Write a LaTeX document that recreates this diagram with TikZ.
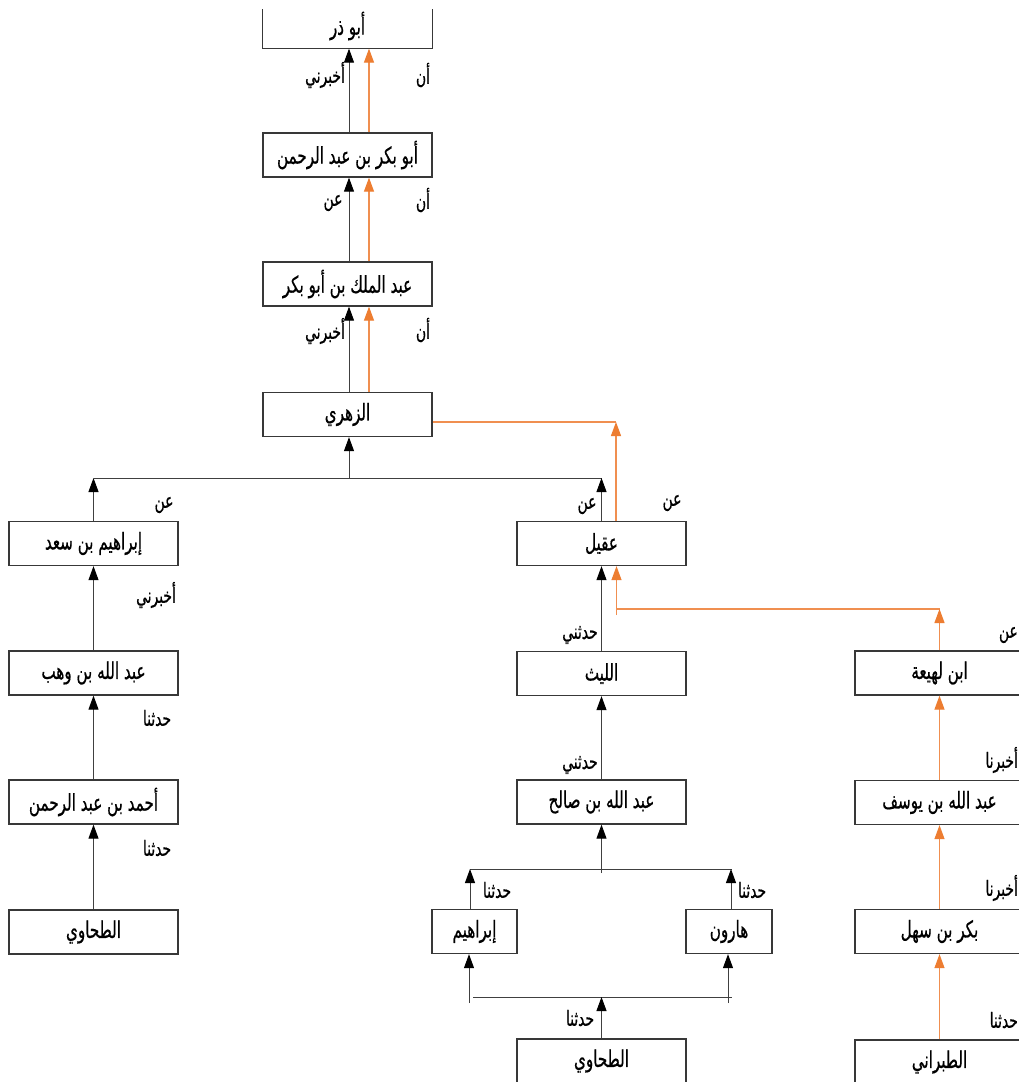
\documentclass[tikz,border=0pt]{standalone}
\usepackage{fontspec}
\newfontfamily\arabicfont[Script=Arabic,FakeStretch=0.66,FakeBold=0.6]{DejaVu Sans}
\TeXXeTstate=1
\usetikzlibrary{arrows.meta}
\definecolor{org}{HTML}{ED7D31}
\definecolor{orgl}{HTML}{F08F50}
\newcommand\artxt[1]{\beginR #1\endR}
\begin{document}
\begin{tikzpicture}[x=1pt,y=-1pt,
  box/.style={draw=black!78,line width=1.3pt,minimum width=169pt,minimum height=44pt,inner sep=0pt,font=\fontsize{23}{26}\arabicfont},
  lbl/.style={inner sep=0pt,font=\fontsize{21}{24}\arabicfont},
  blk/.style={draw=black!75,line width=1pt},
  barr/.style={blk,-{Triangle[length=14pt,width=10pt,color=black]}},
  oline/.style={draw=orgl,line width=1.2pt},
  oarr/.style={oline,-{Triangle[length=14pt,width=10pt,color=org]}}]
\useasboundingbox (0,0) rectangle (1019,1082);
\clip (0,0) rectangle (1019,1082);
\fill[white] (0,0) rectangle (1019,1082);
% boxes
\node[box,draw=none] (b1) at (347.5,26) {\artxt{أبو ذر}};
\draw[black!78,line width=1.3pt] ([yshift=-6pt]b1.north west) -- (b1.south west) -- (b1.south east) -- ([yshift=-6pt]b1.north east);
\node[box] (b2) at (347.5,155) {\artxt{أبو بكر بن عبد الرحمن}};
\node[box] (b3) at (347.5,284) {\artxt{عبد الملك بن أبو بكر}};
\node[box] (b4) at (347.5,414.5) {\artxt{الزهري}};
\node[box] (isaad) at (93.5,543.5) {\artxt{إبراهيم بن سعد}};
\node[box] (wahb) at (93.5,673) {\artxt{عبد الله بن وهب}};
\node[box] (ahmad) at (93.5,802) {\artxt{أحمد بن عبد الرحمن}};
\node[box] (tah1) at (93.5,932) {\artxt{الطحاوي}};
\node[box] (aqil) at (601.5,543.5) {\artxt{عقيل}};
\node[box] (layth) at (601.5,673.5) {\artxt{الليث}};
\node[box] (salih) at (601.5,802) {\artxt{عبد الله بن صالح}};
\node[box,minimum width=85pt] (ibr) at (474.5,931.5) {\artxt{إبراهيم}};
\node[box,minimum width=86pt] (harun) at (729,931.5) {\artxt{هارون}};
\node[box] (tah2) at (601.5,1061) {\artxt{الطحاوي}};
\node[box] (lahia) at (939.5,673) {\artxt{ابن لهيعة}};
\node[box] (yusuf) at (939.5,802.5) {\artxt{عبد الله بن يوسف}};
\node[box] (bakr) at (939.5,931.5) {\artxt{بكر بن سهل}};
\node[box] (tabar) at (939.5,1062) {\artxt{الطبراني}};
% top chain
\draw[barr] ([xshift=1.5pt]b2.north) -- ([xshift=1.5pt]b1.south);
\draw[oarr] ([xshift=21.5pt]b2.north) -- ([xshift=21.5pt]b1.south);
\draw[barr] ([xshift=1.5pt]b3.north) -- ([xshift=1.5pt]b2.south);
\draw[oarr] ([xshift=21.5pt]b3.north) -- ([xshift=21.5pt]b2.south);
\draw[barr] ([xshift=1.5pt]b4.north) -- ([xshift=1.5pt]b3.south);
\draw[oarr] ([xshift=21.5pt]b4.north) -- ([xshift=21.5pt]b3.south);
% branch below Zuhri
\coordinate (jz) at (349,478);
\coordinate (jl) at (93.5,478);
\coordinate (jm) at (601.5,478);
\draw[barr] (jz) -- (jz |- b4.south);
\draw[blk] (jl) -- (jm);
\draw[barr] (isaad.north) -- (jl);
\draw[barr] (aqil.north) -- (jm);
% orange from aqil to zuhri
\coordinate (oz) at (616,422);
\draw[oline] ([yshift=-7.5pt]b4.east) -- (oz);
\draw[oarr] ([xshift=14.5pt]aqil.north) -- (oz);
% left column
\draw[barr] (wahb.north) -- (isaad.south);
\draw[barr] (ahmad.north) -- (wahb.south);
\draw[barr] (tah1.north) -- (ahmad.south);
% middle column
\draw[barr] (layth.north) -- (aqil.south);
\draw[barr] (salih.north) -- (layth.south);
\coordinate (os) at (616.5,615);
\coordinate (ol) at (616.5,609);
\coordinate (or) at (939.5,609);
\draw[oarr] (os) -- (os |- aqil.south);
\draw[oline] (ol) -- (or);
% right column
\draw[oarr] (lahia.north) -- (or);
\draw[oarr] (yusuf.north) -- (lahia.south);
\draw[oarr] (bakr.north) -- (yusuf.south);
\draw[oarr] (tabar.north) -- (bakr.south);
% split below salih
\coordinate (js) at (601.5,873);
\coordinate (jsl) at (470,869);
\coordinate (jsr) at (731,869);
\coordinate (jse) at (732,869);
\draw[barr] (js) -- (js |- salih.south);
\draw[blk] (jsl) -- (jse);
\draw[barr] (ibr.north -| jsl) -- (jsl);
\draw[barr] (harun.north -| jsr) -- (jsr);
% join above tahawi 2
\coordinate (hbl) at (473,997);
\coordinate (hbr) at (732,997);
\coordinate (jbl) at (469,1003);
\coordinate (jbr) at (728,1003);
\coordinate (jb) at (601.5,997);
\draw[blk] (hbl) -- (hbr);
\draw[barr] (jbl) -- (jbl |- ibr.south);
\draw[barr] (jbr) -- (jbr |- harun.south);
\draw[barr] (tah2.north) -- (jb);
% labels
\node[lbl] (l1) at (325,75) {\artxt{أخبرني}};
\node[lbl] (l2) at (423,75) {\artxt{أن}};
\node[lbl] (l3) at (333,203) {\artxt{عن}};
\node[lbl] (l4) at (423,200) {\artxt{أن}};
\node[lbl] (l5) at (325,331) {\artxt{أخبرني}};
\node[lbl] (l6) at (423,330) {\artxt{أن}};
\node[lbl] (l7) at (164,505) {\artxt{عن}};
\node[lbl] (l8) at (587,506) {\artxt{عن}};
\node[lbl] (l9) at (672,503) {\artxt{عن}};
\node[lbl] (l10) at (156,595) {\artxt{أخبرني}};
\node[lbl] (l11) at (580,635) {\artxt{حدثني}};
\node[lbl,anchor=east] (l12) at (1018,635) {\artxt{عن}};
\node[lbl] (l13) at (157,718) {\artxt{حدثنا}};
\node[lbl] (l14) at (580,765) {\artxt{حدثني}};
\node[lbl,anchor=east] (l15) at (1018,760) {\artxt{أخبرنا}};
\node[lbl] (l16) at (157,848) {\artxt{حدثنا}};
\node[lbl] (l17) at (497,890) {\artxt{حدثنا}};
\node[lbl] (l18) at (752,890) {\artxt{حدثنا}};
\node[lbl,anchor=east] (l19) at (1018,888) {\artxt{أخبرنا}};
\node[lbl] (l20) at (580,1018) {\artxt{حدثنا}};
\node[lbl,anchor=east] (l21) at (1018,1020) {\artxt{حدثنا}};
\end{tikzpicture}
\end{document}
